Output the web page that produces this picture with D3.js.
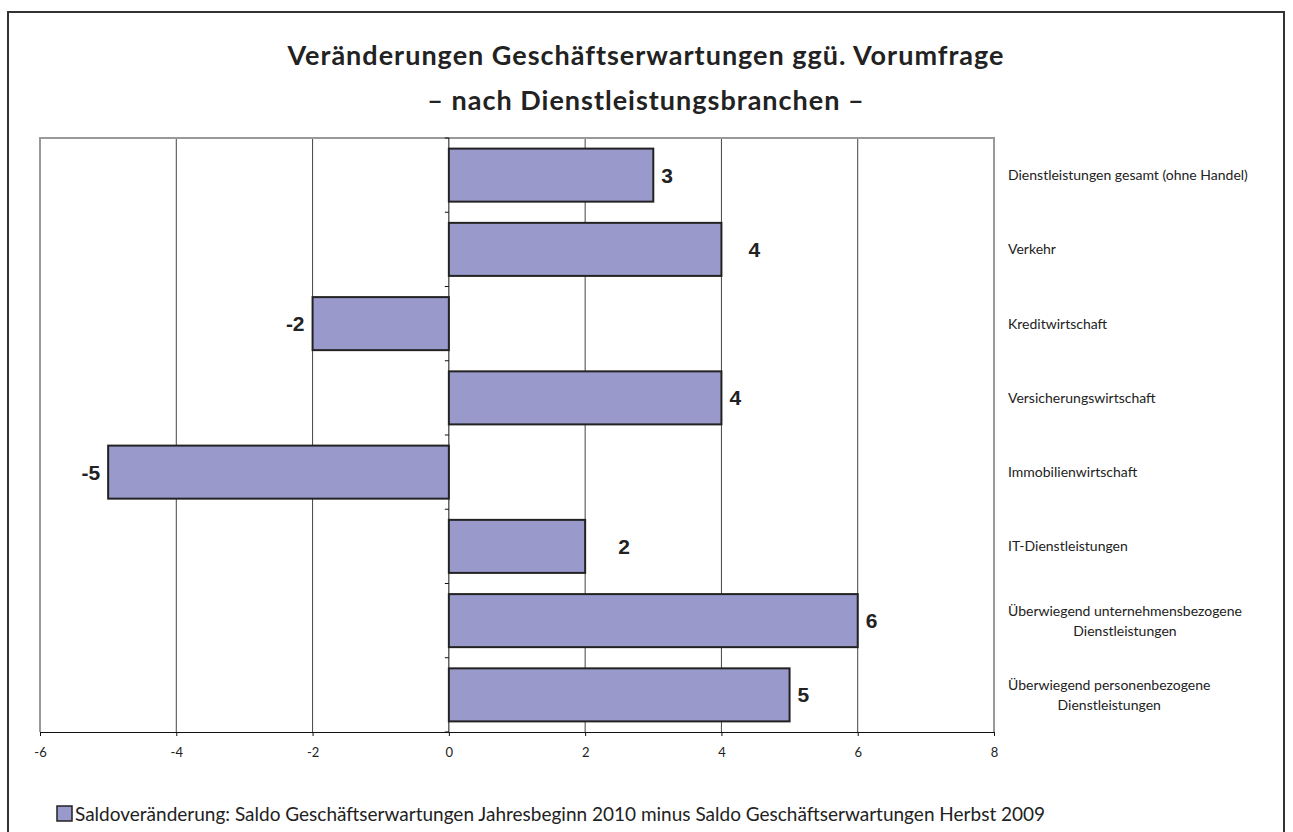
<!DOCTYPE html>
<html>
<head>
<meta charset="utf-8">
<script src="https://cdn.jsdelivr.net/npm/d3@7"></script>
<style>
  body { margin: 0; background: #fff; }
  svg { display: block; }
</style>
</head>
<body>
<svg class="chart" width="1293" height="832"></svg>
<script>
const categories = [
  ["Dienstleistungen gesamt (ohne Handel)"],
  ["Verkehr"],
  ["Kreditwirtschaft"],
  ["Versicherungswirtschaft"],
  ["Immobilienwirtschaft"],
  ["IT-Dienstleistungen"],
  ["Überwiegend unternehmensbezogene", "Dienstleistungen"],
  ["Überwiegend personenbezogene", "Dienstleistungen"],
];
const values = [3, 4, -2, 4, -5, 2, 6, 5];
const xTicks = [-6, -4, -2, 0, 2, 4, 6, 8];
const titleLines = [
  "Veränderungen Geschäftserwartungen ggü. Vorumfrage",
  "– nach Dienstleistungsbranchen –",
];
const legendLabel =
  "Saldoveränderung: Saldo Geschäftserwartungen Jahresbeginn 2010 minus Saldo Geschäftserwartungen Herbst 2009";

// labels that were dragged a bit further right in the original
const labelNudge = { 1: 19, 5: 25 };

const plot = { left: 40, right: 994, top: 138, bottom: 732 };
const font = "Lato, 'Open Sans', sans-serif";

const svg = d3.select(".chart");

// outer frame
svg.append("rect")
  .attr("x", 8).attr("y", 12)
  .attr("width", 1276).attr("height", 840)
  .attr("fill", "none")
  .attr("stroke", "#333")
  .attr("stroke-width", 2);

// title
svg.append("g")
  .selectAll("text")
  .data(titleLines)
  .join("text")
  .attr("x", 646)
  .attr("y", (d, i) => 65 + i * 45)
  .attr("text-anchor", "middle")
  .attr("font-family", font)
  .attr("font-weight", "bold")
  .attr("font-size", 27)
  .attr("letter-spacing", 1)
  .attr("fill", "#222")
  .text((d) => d);

const x = d3.scaleLinear()
  .domain([xTicks[0], xTicks[xTicks.length - 1]])
  .range([plot.left, plot.right]);

const y = d3.scaleBand()
  .domain(d3.range(categories.length))
  .range([plot.top, plot.bottom])
  .paddingInner(0.2857)
  .paddingOuter(0.1429);

// grid lines
svg.append("g")
  .selectAll("line")
  .data(xTicks.filter((t) => t !== 0 && t !== xTicks[0] && t !== xTicks[xTicks.length - 1]))
  .join("line")
  .attr("x1", (d) => x(d)).attr("x2", (d) => x(d))
  .attr("y1", plot.top).attr("y2", plot.bottom)
  .attr("stroke", "#444")
  .attr("stroke-width", 1);

// plot area border (gray)
svg.append("path")
  .attr("d", `M${plot.left},${plot.bottom}V${plot.top}H${plot.right}V${plot.bottom}`)
  .attr("fill", "none")
  .attr("stroke", "#999")
  .attr("stroke-width", 2);

// x axis
const xAxis = svg.append("g")
  .attr("transform", `translate(0,${plot.bottom})`)
  .call(
    d3.axisBottom(x)
      .tickValues(xTicks)
      .tickFormat((d) => String(d))
      .tickSize(4)
      .tickSizeOuter(0)
      .tickPadding(12)
  );
xAxis.select(".domain").attr("stroke", "#111");
xAxis.selectAll(".tick line").attr("stroke", "#111");
xAxis.selectAll("text")
  .attr("font-family", font)
  .attr("font-size", 13)
  .attr("fill", "#222");

// category axis at zero
const boundaries = d3.range(categories.length + 1).map(
  (i) => plot.top + i * y.step()
);
svg.append("line")
  .attr("x1", x(0)).attr("x2", x(0))
  .attr("y1", plot.top).attr("y2", plot.bottom)
  .attr("stroke", "#111");
svg.append("g")
  .selectAll("line")
  .data(boundaries)
  .join("line")
  .attr("x1", x(0) - 4).attr("x2", x(0))
  .attr("y1", (d) => d).attr("y2", (d) => d)
  .attr("stroke", "#111");

// bars
svg.append("g")
  .selectAll("rect")
  .data(values)
  .join("rect")
  .attr("x", (d) => x(Math.min(0, d)))
  .attr("y", (d, i) => y(i))
  .attr("width", (d) => Math.abs(x(d) - x(0)))
  .attr("height", y.bandwidth())
  .attr("fill", "#9999cc")
  .attr("stroke", "#222")
  .attr("stroke-width", 2);

// value labels
svg.append("g")
  .selectAll("text")
  .data(values)
  .join("text")
  .attr("x", (d, i) => (d < 0 ? x(d) - 8 : x(d) + 8 + (labelNudge[i] || 0)))
  .attr("y", (d, i) => y(i) + y.bandwidth() / 2)
  .attr("dy", "0.36em")
  .attr("text-anchor", (d) => (d < 0 ? "end" : "start"))
  .attr("font-family", "'Liberation Sans', Arial, sans-serif")
  .attr("font-weight", "bold")
  .attr("font-size", 21)
  .attr("fill", "#222")
  .text((d) => d);

// category labels on the right
const labelX = 1008;
const catGroup = svg.append("g");
categories.forEach((lines, i) => {
  const cy = y(i) + y.bandwidth() / 2;
  const t = catGroup.append("text")
    .attr("font-family", font)
    .attr("font-size", 14)
    .attr("fill", "#222");
  if (lines.length === 1) {
    t.attr("x", labelX).attr("y", cy).attr("dy", "0.35em").text(lines[0]);
  } else {
    const first = t.append("tspan").text(lines[0]);
    const w = first.node().getComputedTextLength();
    t.attr("text-anchor", "middle");
    first.attr("x", labelX + w / 2).attr("y", cy - 10).attr("dy", "0.35em");
    t.append("tspan")
      .attr("x", labelX + w / 2).attr("y", cy + 10).attr("dy", "0.35em")
      .text(lines[1]);
  }
});

// legend
const legend = svg.append("g").attr("transform", "translate(57,806)");
legend.append("rect")
  .attr("width", 15).attr("height", 15)
  .attr("fill", "#9999cc")
  .attr("stroke", "#222")
  .attr("stroke-width", 1.5);
legend.append("text")
  .attr("x", 18).attr("y", 8)
  .attr("dy", "0.36em")
  .attr("font-family", font)
  .attr("font-size", 19)
  .attr("fill", "#222")
  .text(legendLabel);
</script>
</body>
</html>
